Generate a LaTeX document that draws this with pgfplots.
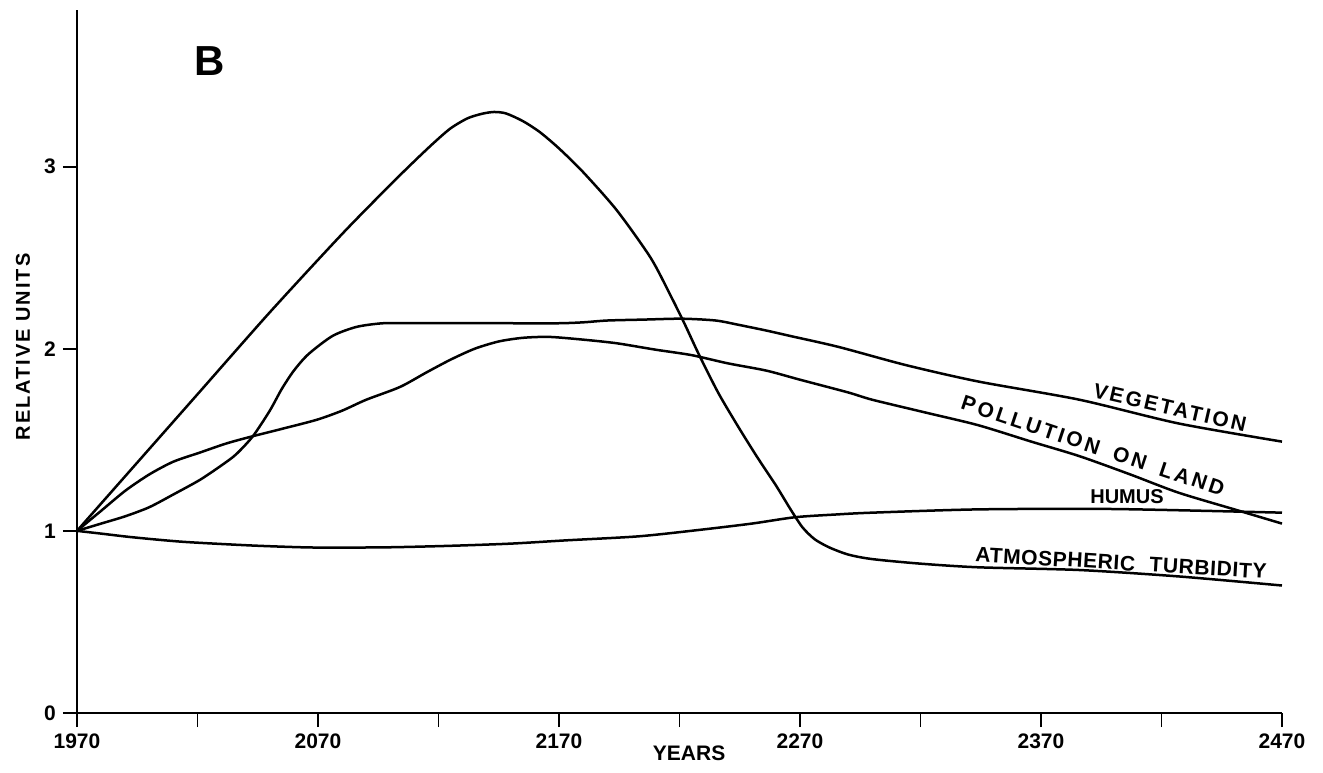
\documentclass[border=0pt]{standalone}
\usepackage{fontspec}
\setmainfont{Liberation Sans}
\usepackage{pgfplots}
\pgfplotsset{compat=1.18}
\begin{document}
\begin{tikzpicture}
\useasboundingbox (-38.5pt,-29.5pt) rectangle (623pt,356.5pt);
\begin{axis}[
  scale only axis, width=602.5pt, height=351.5pt,
  xmin=1970, xmax=2470, ymin=0, ymax=3.86,
  axis lines=left, axis line style={-, line width=1pt},
  tick align=outside, major tick length=7pt, minor tick length=7pt,
  every tick/.style={black, line width=0.9pt},
  xtick={1970,2070,2170,2270,2370,2470},
  minor xtick={2020,2120,2220,2320,2420},
  ytick={0,1,2,3},
  /pgf/number format/assume math mode=true,
  /pgf/number format/set thousands separator={},
  ticklabel style={font=\bfseries\fontsize{10.5}{12}\selectfont},
  clip=false,
  no markers,
  cycle list={{black}},
  every axis plot post/.append style={black, mark=none, line width=1.25pt, smooth, tension=0.45},
]
% Atmospheric turbidity
\addplot coordinates {(1970,1.00) (1990,1.30) (2020,1.75) (2050,2.20) (2080,2.63) (2100,2.90) (2110,3.03) (2118,3.13) (2125,3.21) (2132,3.265) (2138,3.29) (2143,3.30) (2148,3.292) (2155,3.25) (2162,3.19) (2170,3.10) (2180,2.97) (2194,2.76) (2208,2.50) (2216,2.30) (2222,2.14) (2228,1.97) (2236,1.76) (2244,1.58) (2252,1.41) (2260,1.25) (2266,1.12) (2271,1.02) (2276,0.955) (2282,0.91) (2290,0.87) (2300,0.845) (2320,0.82) (2344,0.80) (2386,0.785) (2427,0.75) (2470,0.70)};
% Vegetation
\addplot coordinates {(1970,1.00) (1980,1.04) (1990,1.08) (2000,1.13) (2010,1.20) (2021,1.28) (2030,1.36) (2036,1.42) (2043,1.52) (2050,1.66) (2055,1.78) (2060,1.88) (2066,1.97) (2076,2.07) (2086,2.12) (2097,2.14) (2110,2.14) (2130,2.14) (2150,2.14) (2170,2.14) (2180,2.145) (2190,2.155) (2205,2.16) (2221,2.165) (2235,2.155) (2245,2.13) (2256,2.10) (2266,2.07) (2286,2.01) (2314,1.91) (2344,1.82) (2386,1.72) (2427,1.59) (2470,1.49)};
% Pollution on land
\addplot coordinates {(1970,1.00) (1980,1.11) (1990,1.22) (2000,1.31) (2010,1.38) (2021,1.43) (2032,1.48) (2043,1.52) (2055,1.56) (2069.5,1.61) (2080,1.66) (2090,1.72) (2104,1.79) (2115,1.87) (2125,1.94) (2135,2.00) (2145,2.04) (2155,2.06) (2166,2.065) (2180,2.05) (2194,2.03) (2210,1.995) (2225,1.965) (2240,1.92) (2256,1.88) (2270,1.83) (2290,1.76) (2300,1.72) (2322,1.65) (2344,1.58) (2366,1.49) (2386,1.41) (2407,1.31) (2427,1.21) (2451,1.115) (2470,1.04)};
% Humus
\addplot coordinates {(1970,1.00) (1980,0.985) (1993,0.965) (2014,0.94) (2042,0.92) (2063,0.91) (2076,0.908) (2100,0.91) (2125,0.918) (2150,0.93) (2173,0.948) (2203,0.97) (2228,1.005) (2250,1.04) (2268,1.075) (2285,1.09) (2300,1.10) (2344,1.118) (2400,1.12) (2470,1.10)};

\node[font=\bfseries\fontsize{21}{24}\selectfont] at (axis cs:2025.2,3.577) {B};
\node[font=\bfseries\fontsize{10.5}{12}\selectfont, rotate=-13] at (axis cs:2423.5,1.676) {\addfontfeature{LetterSpace=12}VEGETATION};
\node[font=\bfseries\fontsize{10.5}{12}\selectfont, rotate=-18.5] at (axis cs:2391.6,1.467) {\addfontfeature{LetterSpace=14}POLLUTION\hspace{3pt} ON\hspace{3pt} LAND};
\node[font=\bfseries\fontsize{10}{12}\selectfont] at (axis cs:2405.7,1.187) {HUMUS};
\node[font=\bfseries\fontsize{10.5}{12}\selectfont, rotate=-3.4] at (axis cs:2403.2,0.824) {\addfontfeature{LetterSpace=3}ATMOSPHERIC\hspace{4pt} TURBIDITY};
\node[font=\bfseries\fontsize{10.5}{12}\selectfont] at (axis cs:2224,-0.22) {YEARS};
\node[font=\bfseries\fontsize{10}{12}\selectfont, rotate=90] at (axis cs:1947.6,2.01) {\addfontfeature{LetterSpace=10}RELATIVE UNITS};
\end{axis}
\end{tikzpicture}
\end{document}
